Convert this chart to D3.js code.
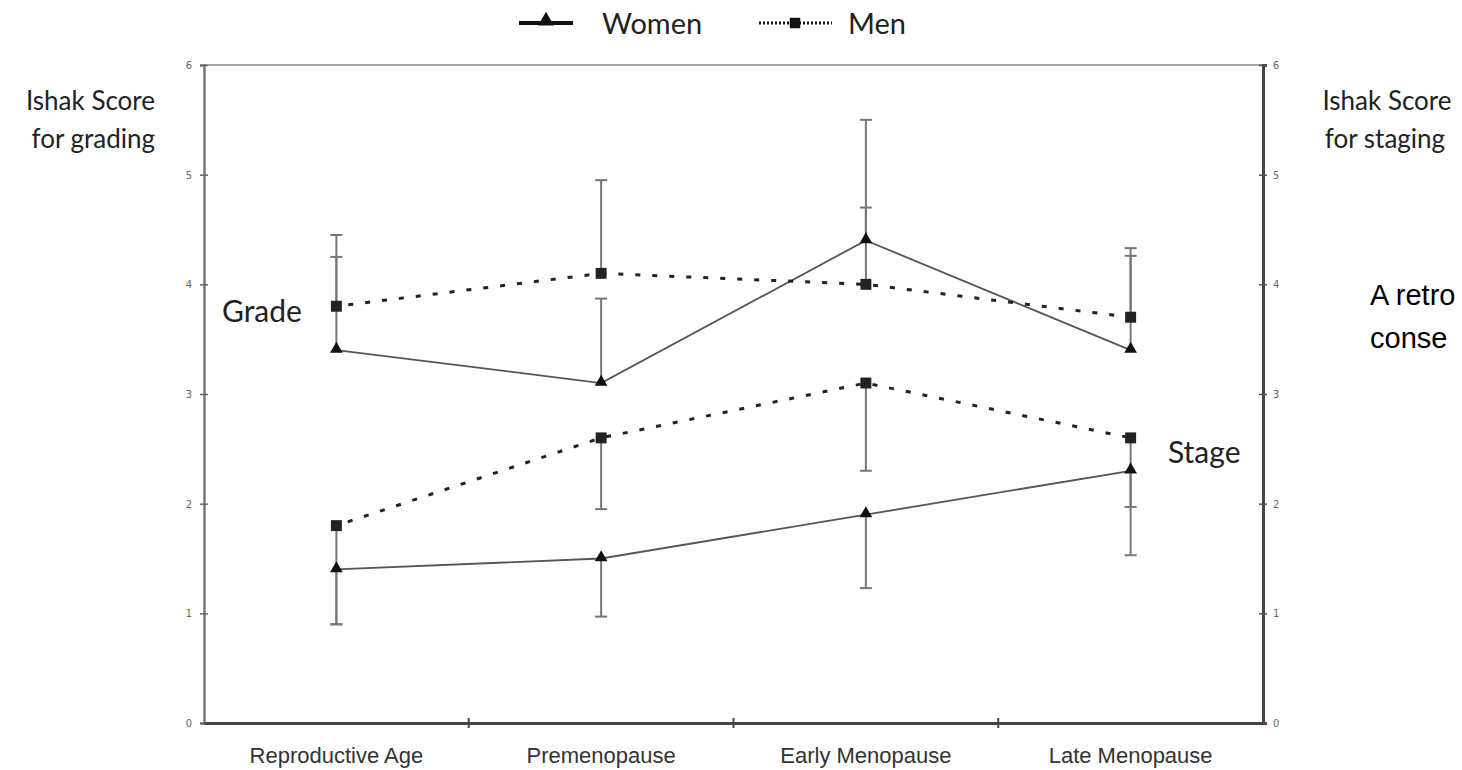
<!DOCTYPE html>
<html>
<head>
<meta charset="utf-8">
<script src="https://cdn.jsdelivr.net/npm/d3@7"></script>
<style>
  html, body { margin: 0; padding: 0; background: #fff; overflow: hidden; }
  svg { display: block; }
  .gill { font-family: Lato, 'Open Sans', sans-serif; fill: #222; }
  .tick text { font-family: 'DejaVu Sans Condensed', 'Liberation Sans Narrow', sans-serif; font-size: 11px; fill: #666; }
</style>
</head>
<body>
<script>
// categories along the bottom
const categories = ['Reproductive Age', 'Premenopause', 'Early Menopause', 'Late Menopause']
const yTicks = [0, 1, 2, 3, 4, 5, 6]

// Ishak grade (top pair) and stage (bottom pair)
const gradeWomen = [3.4, 3.1, 4.4, 3.4]
const gradeMen = [3.8, 4.1, 4.0, 3.7]
const stageWomen = [1.4, 1.5, 1.9, 2.3]
const stageMen = [1.8, 2.6, 3.1, 2.6]

// end of each error bar (grade ones go up, stage ones go down)
const gradeWomenErr = [4.25, 3.87, 5.5, 4.26]
const gradeMenErr = [4.45, 4.95, 4.7, 4.33]
const stageWomenErr = [0.9, 0.97, 1.23, 1.53]
const stageMenErr = [0.9, 1.95, 2.3, 1.97]

const width = 1462
const height = 770
const margin = { left: 204, right: 199, top: 65, bottom: 47 }

const svg = d3.select('body').append('svg')
    .attr('width', width)
    .attr('height', height)

const x = d3.scaleBand()
    .domain(categories)
    .range([margin.left, width - margin.right])
    .padding(0)

const y = d3.scaleLinear()
    .domain([0, 6])
    .range([height - margin.bottom, margin.top])

const cx = d => x(d) + x.bandwidth() / 2

// frame: top line
svg.append('line')
    .attr('x1', margin.left).attr('x2', width - margin.right)
    .attr('y1', y(6)).attr('y2', y(6))
    .attr('stroke', '#888').attr('stroke-width', 1.5)

// left axis
const leftAxis = svg.append('g')
    .attr('transform', `translate(${margin.left},0)`)
    .call(d3.axisLeft(y).tickValues(yTicks).tickFormat(d3.format('d')).tickSize(4).tickPadding(8))
leftAxis.select('.domain').attr('stroke', '#777').attr('stroke-width', 2.5)
leftAxis.selectAll('.tick line').attr('stroke', '#666').attr('stroke-width', 1.5).attr('x2', -4).attr('x1', 4)

// right axis
const rightAxis = svg.append('g')
    .attr('transform', `translate(${width - margin.right},0)`)
    .call(d3.axisRight(y).tickValues(yTicks).tickFormat(d3.format('d')).tickSize(4).tickPadding(6))
rightAxis.select('.domain').attr('stroke', '#444').attr('stroke-width', 3)
rightAxis.selectAll('.tick line').attr('stroke', '#555').attr('stroke-width', 1.5).attr('x1', -4).attr('x2', 4)

// bottom axis with ticks between categories
const bottomAxis = svg.append('g')
    .attr('transform', `translate(0,${y(0)})`)
    .call(d3.axisBottom(x).tickSize(0).tickPadding(24))
bottomAxis.select('.domain').attr('stroke', '#444').attr('stroke-width', 3)
bottomAxis.selectAll('.tick text')
    .style('font-family', "'Liberation Sans', Arial, sans-serif")
    .style('font-size', '22px')
    .style('fill', '#333')
bottomAxis.selectAll('.sep')
    .data(categories.slice(1))
    .enter()
    .append('line')
    .attr('x1', d => x(d)).attr('x2', d => x(d))
    .attr('y1', -5).attr('y2', 5)
    .attr('stroke', '#444').attr('stroke-width', 2)

// error bars
const errSets = [
    { vals: gradeMen, ends: gradeMenErr },
    { vals: gradeWomen, ends: gradeWomenErr },
    { vals: stageMen, ends: stageMenErr },
    { vals: stageWomen, ends: stageWomenErr }
]
errSets.forEach(s => {
    const g = svg.append('g')
    categories.forEach((c, i) => {
        g.append('line')
            .attr('x1', cx(c)).attr('x2', cx(c))
            .attr('y1', y(s.vals[i])).attr('y2', y(s.ends[i]))
            .attr('stroke', '#777').attr('stroke-width', 2)
        g.append('line')
            .attr('x1', cx(c) - 6).attr('x2', cx(c) + 6)
            .attr('y1', y(s.ends[i])).attr('y2', y(s.ends[i]))
            .attr('stroke', '#777').attr('stroke-width', 2)
    })
})

const line = d3.line()
    .x((d, i) => cx(categories[i]))
    .y(d => y(d))

// women: solid, men: dotted
;[gradeWomen, stageWomen].forEach(s => {
    svg.append('path')
        .datum(s)
        .attr('d', line)
        .attr('fill', 'none')
        .attr('stroke', '#555')
        .attr('stroke-width', 1.8)
})
;[gradeMen, stageMen].forEach(s => {
    svg.append('path')
        .datum(s)
        .attr('d', line)
        .attr('fill', 'none')
        .attr('stroke', '#222')
        .attr('stroke-width', 3)
        .attr('stroke-dasharray', '5,12')
        .attr('stroke-dashoffset', -12)
})

const tri = d3.symbol().type(d3.symbolTriangle).size(70)
const sq = d3.symbol().type(d3.symbolSquare).size(120)

;[gradeWomen, stageWomen].forEach(s => {
    svg.append('g').selectAll('path')
        .data(s)
        .enter()
        .append('path')
        .attr('d', tri)
        .attr('transform', (d, i) => `translate(${cx(categories[i])},${y(d) - 1})`)
        .attr('fill', '#111')
})
;[gradeMen, stageMen].forEach(s => {
    svg.append('g').selectAll('path')
        .data(s)
        .enter()
        .append('path')
        .attr('d', sq)
        .attr('transform', (d, i) => `translate(${cx(categories[i])},${y(d)})`)
        .attr('fill', '#222')
})

// legend
const legend = svg.append('g')
legend.append('line')
    .attr('x1', 519).attr('x2', 573).attr('y1', 23).attr('y2', 23)
    .attr('stroke', '#111').attr('stroke-width', 4)
legend.append('path')
    .attr('d', d3.symbol().type(d3.symbolTriangle).size(110))
    .attr('transform', 'translate(546,21)')
    .attr('fill', '#111')
legend.append('text')
    .attr('class', 'gill')
    .attr('x', 602).attr('y', 34)
    .style('font-size', '29px')
    .text('Women')
legend.append('line')
    .attr('x1', 759).attr('x2', 832).attr('y1', 23).attr('y2', 23)
    .attr('stroke', '#111').attr('stroke-width', 3)
    .attr('stroke-dasharray', '2,2')
legend.append('path')
    .attr('d', d3.symbol().type(d3.symbolSquare).size(110))
    .attr('transform', 'translate(795,23)')
    .attr('fill', '#111')
legend.append('text')
    .attr('class', 'gill')
    .attr('x', 848).attr('y', 34)
    .style('font-size', '29px')
    .text('Men')

// side titles
svg.append('text').attr('class', 'gill')
    .attr('x', 155).attr('y', 110).attr('text-anchor', 'end')
    .style('font-size', '26px').text('Ishak Score')
svg.append('text').attr('class', 'gill')
    .attr('x', 155).attr('y', 148).attr('text-anchor', 'end')
    .style('font-size', '26px').text('for grading')
svg.append('text').attr('class', 'gill')
    .attr('x', 1387).attr('y', 110).attr('text-anchor', 'middle')
    .style('font-size', '26px').text('Ishak Score')
svg.append('text').attr('class', 'gill')
    .attr('x', 1385).attr('y', 148).attr('text-anchor', 'middle')
    .style('font-size', '26px').text('for staging')

svg.append('text').attr('class', 'gill')
    .attr('x', 222).attr('y', 322)
    .style('font-size', '30px').text('Grade')
svg.append('text').attr('class', 'gill')
    .attr('x', 1168).attr('y', 463)
    .style('font-size', '30px').text('Stage')

// note on the right, only the part that shows
svg.append('text')
    .attr('x', 1370).attr('y', 305)
    .style('font-family', "'Liberation Sans', Arial, sans-serif")
    .style('font-size', '29px').style('fill', '#000')
    .text('A retro')
svg.append('text')
    .attr('x', 1370).attr('y', 348)
    .style('font-family', "'Liberation Sans', Arial, sans-serif")
    .style('font-size', '29px').style('fill', '#000')
    .text('conse')
</script>
</body>
</html>
